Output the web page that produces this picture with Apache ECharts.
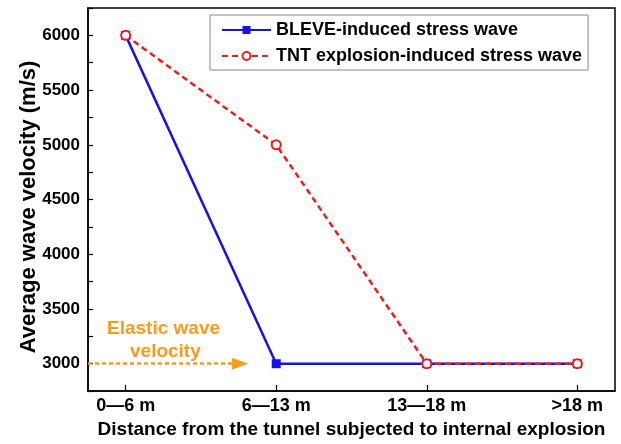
<!DOCTYPE html>
<html>
<head>
<meta charset="utf-8">
<script src="https://cdn.jsdelivr.net/npm/echarts@6/dist/echarts.min.js"></script>
<style>html,body{margin:0;padding:0;background:#fff;}#c{width:621px;height:444px;}</style>
</head>
<body>
<div id="c"></div>
<script>
var categories = ['0\u20146 m', '6\u201413 m', '13\u201418 m', '>18 m'];
var bleve = [6000, 3000, 3000, 3000];
var tnt = [6000, 5000, 3000, 3000];
var yTicks = [3000, 3500, 4000, 4500, 5000, 5500, 6000];
var elasticVelocity = 3000;
var seriesNames = ['BLEVE-induced stress wave', 'TNT explosion-induced stress wave'];
var yTitle = 'Average wave velocity (m/s)';
var xTitle = 'Distance from the tunnel subjected to internal explosion';

var FONT = '"Liberation Sans", Arial, sans-serif';
var ORANGE = '#f99b1c';
var BLUE = '#1414e6';
var RED = '#ee1c1c';

var chart = echarts.init(document.getElementById('c'));
chart.setOption({
  animation: false,
  backgroundColor: '#fff',
  grid: {left: 88, right: 6, top: 8, bottom: 49, show: true, borderColor: '#000', borderWidth: 1.5, backgroundColor: 'transparent'},
  legend: {
    left: 210, top: 15, orient: 'vertical',
    padding: [6, 6, 5, 11], itemGap: 8, itemWidth: 49, itemHeight: 10,
    borderColor: '#888', borderWidth: 1, backgroundColor: '#fff',
    textStyle: {fontFamily: FONT, fontWeight: 'bold', fontSize: 18, color: '#000'},
    data: seriesNames
  },
  xAxis: {
    type: 'value', min: -0.25, max: 3.25,
    name: xTitle,
    nameLocation: 'middle', nameGap: 28,
    nameTextStyle: {fontFamily: FONT, fontWeight: 'bold', fontSize: 19, color: '#000'},
    axisLine: {show: true, onZero: false, lineStyle: {color: '#000', width: 1.5}},
    axisTick: {show: true, inside: true, length: 6, lineStyle: {color: '#000', width: 1.2}, customValues: [0, 1, 2, 3]},
    axisLabel: {
      fontFamily: FONT, fontWeight: 'bold', fontSize: 18, color: '#000', margin: 6,
      customValues: [0, 1, 2, 3],
      formatter: function (v) { return categories[Math.round(v)] || ''; }
    },
    splitLine: {show: false}
  },
  yAxis: {
    type: 'value', min: 2750, max: 6250, interval: 250,
    axisLine: {show: true, onZero: false, lineStyle: {color: '#000', width: 1.5}},
    axisTick: {show: true, inside: true, length: 5, lineStyle: {color: '#000', width: 1.2}},
    axisLabel: {
      fontFamily: FONT, fontWeight: 'bold', fontSize: 17, color: '#000', margin: 8,
      formatter: function (v) { return yTicks.indexOf(v) >= 0 ? String(v) : ''; }
    },
    splitLine: {show: false}
  },
  graphic: [
    {type: 'text', x: 29, y: 207, rotation: Math.PI / 2,
     style: {text: yTitle, fill: '#000', font: 'bold 22px ' + FONT, align: 'center', verticalAlign: 'middle'}},
    {type: 'text', left: 107, top: 319, style: {text: 'Elastic wave', fill: ORANGE, font: 'bold 19px ' + FONT}},
    {type: 'text', left: 130, top: 342, style: {text: 'velocity', fill: ORANGE, font: 'bold 19px ' + FONT}}
  ],
  series: [
    {
      name: seriesNames[0], type: 'line', z: 3,
      data: bleve.map(function (v, i) { return [i, v]; }),
      symbol: 'rect', symbolSize: 9,
      itemStyle: {color: BLUE},
      lineStyle: {color: BLUE, width: 2.5},
      markLine: {
        silent: true, animation: false,
        symbol: ['none', 'triangle'], symbolSize: [12, 16],
        lineStyle: {color: ORANGE, width: 2.5, type: [4, 3]},
        label: {show: false},
        data: [[{coord: [-0.25, elasticVelocity]}, {coord: [0.76, elasticVelocity]}]]
      }
    },
    {
      name: seriesNames[1], type: 'line', z: 4,
      data: tnt.map(function (v, i) { return [i, v]; }),
      symbol: 'emptyCircle', symbolSize: 9,
      itemStyle: {color: RED, borderColor: RED, borderWidth: 2},
      lineStyle: {color: RED, width: 2.5, type: [6, 4]}
    }
  ]
});
</script>
</body>
</html>
